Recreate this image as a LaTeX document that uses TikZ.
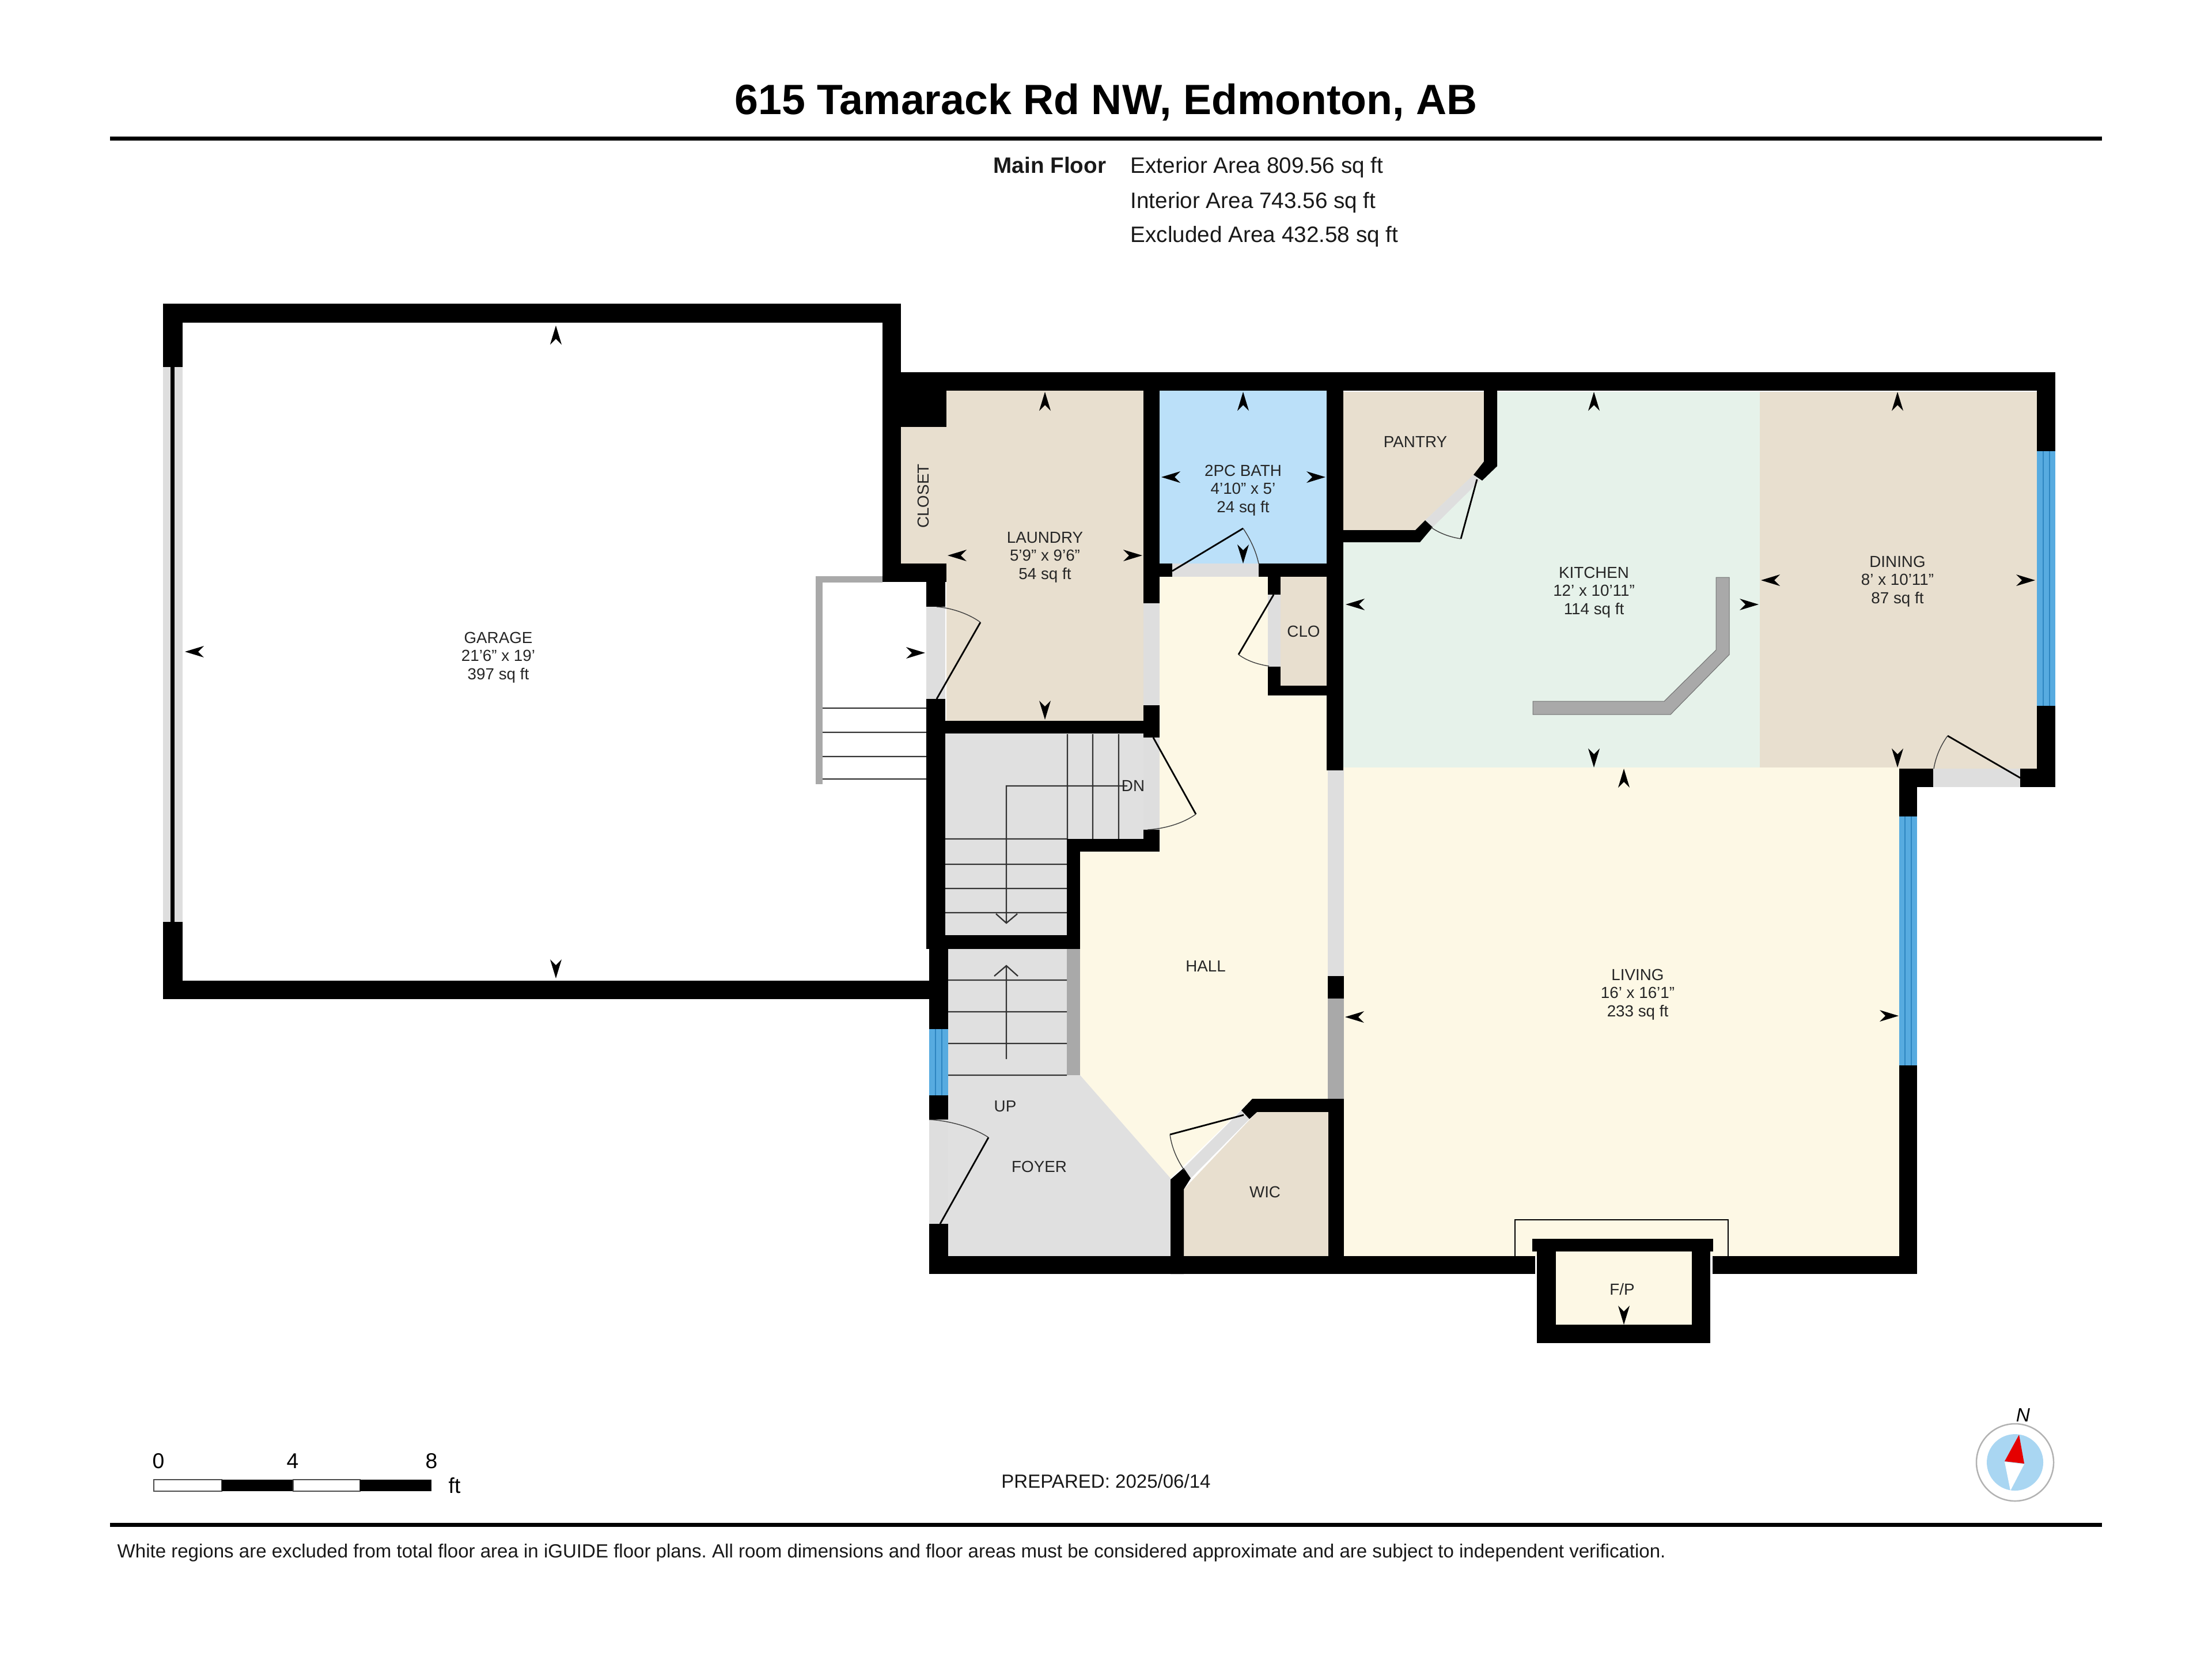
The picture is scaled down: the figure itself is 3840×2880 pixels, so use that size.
\documentclass[tikz,border=0pt]{standalone}
\usepackage{fontspec}
\setmainfont{Liberation Sans}
\frenchspacing
\definecolor{wallblack}{HTML}{000000}
\definecolor{roomtan}{HTML}{E8DFCF}
\definecolor{roomcream}{HTML}{FDF8E5}
\definecolor{roommint}{HTML}{E6F2EA}
\definecolor{roomblue}{HTML}{BBE0F9}
\definecolor{roomgrey}{HTML}{E0E0E0}
\definecolor{sillgrey}{HTML}{DEDEDE}
\definecolor{halfwall}{HTML}{A9A9A9}
\definecolor{glassblue}{HTML}{57ABE0}
\definecolor{glassline}{HTML}{2E86C1}
\definecolor{compassblue}{HTML}{A9D6F2}
\begin{document}
\begin{tikzpicture}[x=0.01cm,y=-0.01cm,>=stealth,
    room label/.style={align=center,inner sep=0pt,text=black!85,font=\fontsize{7.9}{8.9}\selectfont},
    info label/.style={anchor=west,inner sep=0pt,text=black!90,font=\fontsize{11}{13}\selectfont},
    scale label/.style={inner sep=0pt,font=\fontsize{10.6}{12}\selectfont},
    wall/.style={fill=wallblack},
    sill/.style={fill=sillgrey},
    half wall/.style={fill=halfwall},
    swing/.style={draw=black,line width=0.8pt},
    arc line/.style={draw=black!75,line width=0.4pt},
    tread/.style={draw=black!80,line width=0.65pt},
    rule/.style={draw=black,line width=2pt},
    pane/.style={draw=glassline,line width=0.7pt},
    dim mark/.pic={\fill[black] (0,0) -- (-10,33) -- (0,23) -- (10,33) -- cycle;}]
    \useasboundingbox (0,0) rectangle (3840,2880);
    \fill[white] (0,0) rectangle (3840,2880);

    \fill[roomtan] (1643,678) rectangle (1985,1251);
    \fill[roomtan] (1564,741) rectangle (1643,978);
    \fill[roomblue] (2013,678) rectangle (2303,978);
    \fill[roomtan] (2223,1001) rectangle (2303,1190);
    \fill[roommint] (2332,680) rectangle (3055,1332);
    \fill[roomtan] (2332,680) -- (2576,680) -- (2576,801) -- (2558,824) -- (2474,903) -- (2457,920) -- (2332,920) -- cycle;
    \fill[roomtan] (3055,680) rectangle (3536,1334);
    \fill[roomcream] (2332,1332) rectangle (3297,2180);
    \fill[roomcream] (2701,2172) rectangle (2937,2299);
    \fill[roomcream] (2013,1001) -- (2201,1001) -- (2201,1207) -- (2306,1207) -- (2306,1907) -- (2174,1907) -- (2032,2045) -- (1875,1866) -- (1875,1478) -- (2013,1478) -- cycle;
    \fill[roomgrey] (1641,1273) -- (1985,1273) -- (1985,1456) -- (1852,1456) -- (1852,1623) -- (1641,1623) -- cycle;
    \fill[roomgrey] (1646,1647) -- (1852,1647) -- (1852,1866) -- (1875,1866) -- (2032,2045) -- (2032,2180) -- (1646,2180) -- cycle;
    \fill[roomtan] (2055,2064) -- (2182,1930) -- (2306,1930) -- (2306,2180) -- (2055,2180) -- cycle;

    \fill[sill] (1608,1053) rectangle (1641,1213);
    \fill[sill] (1985,1047) rectangle (2013,1224);
    \fill[sill] (2035,978) rectangle (2185,1001);
    \fill[sill] (2201,1032) rectangle (2223,1157);
    \fill[sill] (1985,1280) rectangle (2013,1440);
    \fill[sill] (2305,1337) rectangle (2333,1694);
    \fill[sill] (1613,1943) rectangle (1646,2124);
    \fill[sill] (3356,1334) rectangle (3507,1366);
    \fill[sill] (2055,2027) -- (2155,1927) -- (2169,1942) -- (2067,2045) -- cycle;
    \fill[sill] (2558,824) -- (2474,903) -- (2487,915) -- (2569,834) -- cycle;
    \fill[sill] (283,637) rectangle (317,1600);
    \fill[black] (296,637) rectangle (303,1600);

    \fill[half wall] (1852,1647) rectangle (1875,1866);
    \fill[half wall] (2305,1733) rectangle (2333,1907);
    \fill[half wall,draw=black!55,line width=0.3pt] (2979,1002) -- (3002,1002) -- (3002,1136) -- (2900,1240) -- (2661,1240) -- (2661,1217) -- (2889,1217) -- (2979,1128) -- cycle;
    \fill[half wall] (1416,1000) rectangle (1532,1011);
    \fill[half wall] (1416,1000) rectangle (1428,1361);

    \fill[glassblue] (1613,1786) rectangle (1646,1901);
    \fill[glassblue] (3536,783) rectangle (3568,1225);
    \fill[glassblue] (3297,1417) rectangle (3328,1849);
    \draw[pane] (1624,1786) -- (1624,1901) (1635,1786) -- (1635,1901);
    \draw[pane] (3547,783) -- (3547,1225) (3558,783) -- (3558,1225);
    \draw[pane] (3307,1417) -- (3307,1849) (3318,1417) -- (3318,1849);

    \path[tread]
        (1428,1229) -- (1608,1229)
        (1428,1271) -- (1608,1271)
        (1428,1313) -- (1608,1313)
        (1428,1352) -- (1608,1352)

        (1853,1274) -- (1853,1456)
        (1897,1274) -- (1897,1456)
        (1942,1274) -- (1942,1456)

        (1641,1456) -- (1852,1456)
        (1641,1500) -- (1852,1500)
        (1641,1542) -- (1852,1542)
        (1641,1584) -- (1852,1584)

        (1646,1701) -- (1852,1701)
        (1646,1756) -- (1852,1756)
        (1646,1811) -- (1852,1811)
        (1646,1866) -- (1852,1866)

        (1957,1364) -- (1747,1364) -- (1747,1602)
        (1729,1586) -- (1747,1602) -- (1766,1586)
        (1747,1838) -- (1747,1676)
        (1726,1694) -- (1747,1676) -- (1767,1694)
        ;

    \fill[wall] (283,527) rectangle (1564,560);
    \fill[wall] (283,527) rectangle (317,637);
    \fill[wall] (283,1600) rectangle (317,1734);
    \fill[wall] (283,1702) rectangle (1615,1734);
    \fill[wall] (1532,527) rectangle (1564,1010);
    \fill[wall] (1532,646) rectangle (3568,678);
    \fill[wall] (1532,678) rectangle (1643,741);
    \fill[wall] (1532,978) rectangle (1643,1010);
    \fill[wall] (1608,1010) rectangle (1641,1053);
    \fill[wall] (1608,1213) rectangle (1641,1647);
    \fill[wall] (1613,1647) rectangle (1646,1786);
    \fill[wall] (1613,1901) rectangle (1646,1943);
    \fill[wall] (1613,2124) rectangle (1646,2211);
    \fill[wall] (1613,2180) rectangle (2665,2211);
    \fill[wall] (2973,2180) rectangle (3328,2211);
    \fill[wall] (1641,1251) rectangle (2013,1273);
    \fill[wall] (1985,678) rectangle (2013,1047);
    \fill[wall] (1985,1224) rectangle (2013,1280);
    \fill[wall] (1985,1440) rectangle (2013,1478);
    \fill[wall] (1852,1456) rectangle (2013,1478);
    \fill[wall] (1852,1456) rectangle (1875,1647);
    \fill[wall] (1641,1623) rectangle (1875,1647);
    \fill[wall] (2013,978) rectangle (2035,1001);
    \fill[wall] (2185,978) rectangle (2305,1001);
    \fill[wall] (2201,1001) rectangle (2223,1032);
    \fill[wall] (2201,1157) rectangle (2223,1207);
    \fill[wall] (2201,1190) rectangle (2305,1207);
    \fill[wall] (2303,678) rectangle (2332,1337);
    \fill[wall] (2305,1694) rectangle (2333,1733);
    \fill[wall] (2174,1907) rectangle (2333,1930);
    \fill[wall] (2306,1907) rectangle (2333,2211);
    \fill[wall] (2155,1927) -- (2174,1907) -- (2182,1930) -- (2169,1942) -- cycle;
    \fill[wall] (2032,2047) -- (2055,2027) -- (2067,2045) -- (2055,2064) -- (2055,2211) -- (2032,2211) -- cycle;
    \fill[wall] (2576,678) -- (2599,678) -- (2599,809) -- (2573,834) -- (2558,824) -- (2576,801) -- cycle;
    \fill[wall] (2474,903) -- (2487,915) -- (2465,941) -- (2332,941) -- (2332,920) -- (2457,920) -- cycle;
    \fill[wall] (3536,678) rectangle (3568,783);
    \fill[wall] (3536,1225) rectangle (3568,1366);
    \fill[wall] (3507,1334) rectangle (3568,1366);
    \fill[wall] (3297,1334) rectangle (3356,1366);
    \fill[wall] (3297,1366) rectangle (3328,1417);
    \fill[wall] (3297,1849) rectangle (3328,2211);
    \fill[wall] (2660,2150) rectangle (2974,2172);
    \fill[wall] (2668,2150) rectangle (2701,2331);
    \fill[wall] (2937,2150) rectangle (2969,2331);
    \fill[wall] (2668,2299) rectangle (2969,2331);

    \draw[draw=black,line width=0.5pt] (2630,2180) -- (2630,2117) -- (3000,2117) -- (3000,2180);

    \draw[swing] (1626,1213) -- (1702,1080);
    \draw[arc line] (1702,1080) .. controls (1680,1064) and (1650,1055) .. (1626,1053);
    \draw[swing] (2035,991) -- (2158,917);
    \draw[arc line] (2158,917) .. controls (2170,935) and (2180,955) .. (2185,978);
    \draw[swing] (2211,1032) -- (2150,1136);
    \draw[arc line] (2150,1136) .. controls (2165,1147) and (2183,1153) .. (2203,1156);
    \draw[swing] (2002,1280) -- (2076,1413);
    \draw[arc line] (2076,1413) .. controls (2055,1428) and (2025,1438) .. (1992,1440);
    \draw[swing] (1632,2124) -- (1716,1974);
    \draw[arc line] (1716,1974) .. controls (1690,1957) and (1650,1945) .. (1613,1943);
    \draw[swing] (2159,1935) -- (2031,1969);
    \draw[arc line] (2031,1969) .. controls (2034,1992) and (2044,2014) .. (2056,2031);
    \draw[swing] (2564,832) -- (2536,935);
    \draw[arc line] (2536,935) .. controls (2516,932) and (2498,925) .. (2484,915);
    \draw[swing] (3507,1350) -- (3381,1277);
    \draw[arc line] (3381,1277) .. controls (3368,1295) and (3360,1315) .. (3357,1334);

    \pic at (965,565) {dim mark};
    \pic[rotate=180] at (965,1698) {dim mark};
    \pic[rotate=90] at (321,1131) {dim mark};
    \pic[rotate=-90] at (1606,1133) {dim mark};

    \pic at (1814,680) {dim mark};
    \pic[rotate=180] at (1814,1249) {dim mark};
    \pic[rotate=90] at (1645,964) {dim mark};
    \pic[rotate=-90] at (1983,964) {dim mark};

    \pic at (2158,680) {dim mark};
    \pic[rotate=180] at (2158,978) {dim mark};
    \pic[rotate=90] at (2016,828) {dim mark};
    \pic[rotate=-90] at (2301,828) {dim mark};

    \pic at (2767,680) {dim mark};
    \pic[rotate=180] at (2767,1332) {dim mark};
    \pic[rotate=90] at (2336,1049) {dim mark};
    \pic[rotate=-90] at (3053,1049) {dim mark};

    \pic at (3294,680) {dim mark};
    \pic[rotate=180] at (3294,1332) {dim mark};
    \pic[rotate=90] at (3057,1007) {dim mark};
    \pic[rotate=-90] at (3533,1007) {dim mark};

    \pic at (2819,1334) {dim mark};
    \pic[rotate=180] at (2819,2299) {dim mark};
    \pic[rotate=90] at (2335,1765) {dim mark};
    \pic[rotate=-90] at (3296,1763) {dim mark};

    \node[room label] (garage) at (865,1141) {GARAGE\\21'6" x 19'\\397 sq ft};
    \node[room label] (laundry) at (1814,967) {LAUNDRY\\5'9" x 9'6"\\54 sq ft};
    \node[room label] (bath) at (2158,851) {2PC BATH\\4'10" x 5'\\24 sq ft};
    \node[room label,rotate=90] (closet) at (1603,861) {CLOSET};
    \node[room label] (clo) at (2263,1096) {CLO};
    \node[room label] (pantry) at (2457,767) {PANTRY};
    \node[room label] (kitchen) at (2767,1028) {KITCHEN\\12' x 10'11"\\114 sq ft};
    \node[room label] (dining) at (3294,1009) {DINING\\8' x 10'11"\\87 sq ft};
    \node[room label] (living) at (2843,1726) {LIVING\\16' x 16'1"\\233 sq ft};
    \node[room label] (hall) at (2093,1677) {HALL};
    \node[room label] (dn) at (1967,1364) {DN};
    \node[room label] (up) at (1745,1920) {UP};
    \node[room label] (foyer) at (1804,2025) {FOYER};
    \node[room label] (wic) at (2196,2069) {WIC};
    \node[room label] (fp) at (2816,2238) {F/P};

    \node[inner sep=0pt,font=\fontsize{20.9}{24}\selectfont\bfseries] (title) at (1920,178) {615 Tamarack Rd NW, Edmonton, AB};
    \draw[rule] (191,240) -- (3649,240);
    \node[info label,font=\fontsize{11}{13}\selectfont\bfseries] (floorname) at (1724,287) {Main Floor};
    \node[info label] (exterior) at (1962,290) {Exterior Area 809.56 sq ft};
    \node[info label] (interior) at (1962,351) {Interior Area 743.56 sq ft};
    \node[info label] (excluded) at (1962,410) {Excluded Area 432.58 sq ft};

    \draw[draw=black!70,fill=white,line width=0.5pt] (267,2568) rectangle (385,2588);
    \fill[black] (385,2568) rectangle (509,2588);
    \draw[draw=black!70,fill=white,line width=0.5pt] (509,2568) rectangle (625,2588);
    \fill[black] (625,2568) rectangle (749,2588);
    \node[scale label] (zero) at (275,2536) {0};
    \node[scale label] (four) at (508,2536) {4};
    \node[scale label] (eight) at (749,2536) {8};
    \node[scale label] (feet) at (789,2578) {ft};

    \node[inner sep=0pt,text=black!90,font=\fontsize{9.4}{11}\selectfont] (prepared) at (1920,2571) {PREPARED: 2025/06/14};

    \draw[draw=black!30,fill=white,line width=0.7pt] (3498,2538) circle (67);
    \fill[compassblue] (3498,2538) circle (49);
    \fill[white] (3480,2537) -- (3514,2541) -- (3490,2587) -- cycle;
    \fill[red!90!black] (3505,2490) -- (3480,2536) -- (3514,2540) -- cycle;
    \node[inner sep=0pt,font=\fontsize{9.5}{11}\selectfont\itshape] (north) at (3512,2456) {N};

    \draw[rule] (191,2646) -- (3649,2646);
    \node[info label,font=\fontsize{9.4}{11}\selectfont] (footer) at (203,2695) {White regions are excluded from total floor area in iGUIDE floor plans. All room dimensions and floor areas must be considered approximate and are subject to independent verification.};
\end{tikzpicture}
\end{document}
